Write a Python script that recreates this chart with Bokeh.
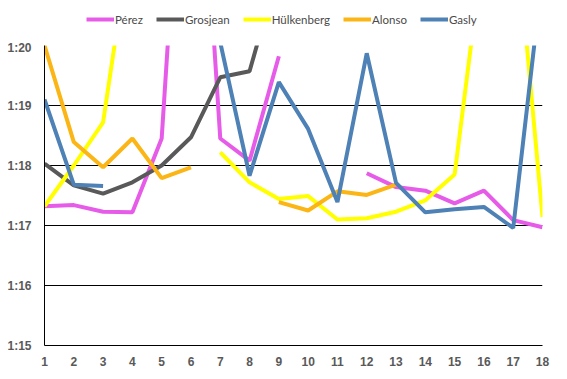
from bokeh.plotting import figure
from bokeh.models import Range1d, FixedTicker, Legend, LegendItem
from bokeh.layouts import column
from bokeh.embed import file_html
from bokeh.resources import INLINE

nan = float("nan")

laps = [1, 2, 3, 4, 5, 6, 7, 8, 9, 10, 11, 12, 13, 14, 15, 16, 17, 18]
perez = [77.32, 77.34, 77.23, 77.22, 78.45, 86.0, 78.45, 78.08, 79.82, nan, nan,
         77.87, 77.64, 77.58, 77.37, 77.58, 77.09, 76.97]
grosjean = [78.03, 77.67, 77.53, 77.72, 78.0, 78.47, 79.47, 79.57, 81.3, nan, nan,
            nan, nan, nan, nan, nan, nan, nan]
hulkenberg = [77.32, 78.0, 78.72, 82.0, nan, nan, 78.22, 77.72, 77.44, 77.49, 77.1,
              77.12, 77.23, 77.42, 77.85, 81.7, 82.5, 77.14]
alonso = [80.0, 78.39, 77.97, 78.45, 77.79, 77.97, nan, nan, 77.39, 77.25, 77.57,
          77.51, 77.68, nan, nan, nan, nan, nan]
gasly = [79.1, 77.68, 77.66, nan, nan, nan, 80.05, 77.83, 79.39, 78.61, 77.39,
         79.87, 77.71, 77.22, 77.27, 77.31, 76.96, 81.2]

names = ["Pérez", "Grosjean", "Hülkenberg", "Alonso", "Gasly"]
series = [perez, grosjean, hulkenberg, alonso, gasly]
colors = ["#E65CE8", "#595959", "#FFFF00", "#FBB515", "#4E81B5"]

y_ticks = [75, 76, 77, 78, 79, 80]
y_labels = ["1:15", "1:16", "1:17", "1:18", "1:19", "1:20"]

# ---- main chart ----
p = figure(width=551, height=331, output_backend="svg", toolbar_location=None,
           x_range=Range1d(1, 18), y_range=Range1d(75, 80),
           min_border_left=44, min_border_right=9, min_border_top=5,
           min_border_bottom=26)
p.outline_line_color = None
p.background_fill_color = "white"
p.border_fill_color = "white"

for vals, c in zip(series, colors):
    p.line(laps, vals, line_color=c, line_width=4)

p.xgrid.grid_line_color = None
p.ygrid.grid_line_color = "black"
p.ygrid.grid_line_width = 1
p.ygrid.ticker = FixedTicker(ticks=y_ticks)

for ax in (p.xaxis[0], p.yaxis[0]):
    ax.axis_line_color = "black"
    ax.axis_line_width = 1
    ax.major_tick_line_color = None
    ax.minor_tick_line_color = None
    ax.major_tick_out = 0
    ax.major_tick_in = 0
    ax.minor_tick_out = 0
    ax.minor_tick_in = 0
    ax.major_label_text_font = "Liberation Sans"
    ax.major_label_text_font_style = "bold"
    ax.major_label_text_font_size = "12px"
    ax.major_label_text_color = "#595959"

p.xaxis.ticker = FixedTicker(ticks=laps)
p.xaxis.major_label_standoff = 11
p.yaxis.ticker = FixedTicker(ticks=y_ticks)
p.yaxis.major_label_overrides = {t: l for t, l in zip(y_ticks, y_labels)}
p.yaxis.major_label_standoff = 13

# ---- legend strip above the chart ----
lg = figure(width=551, height=40, output_backend="svg", toolbar_location=None,
            x_axis_type=None, y_axis_type=None,
            x_range=Range1d(0, 1), y_range=Range1d(0, 1),
            min_border=0)
lg.outline_line_color = None
lg.xgrid.grid_line_color = None
lg.ygrid.grid_line_color = None
items = []
for name, c in zip(names, colors):
    # off-range placeholder so that the legend swatch is drawn
    r = lg.line(x=[-2, -1], y=[-2, -2], line_color=c, line_width=4)
    items.append(LegendItem(label=name, renderers=[r]))

legend = Legend(items=items, orientation="horizontal", location=(42, 14))
legend.border_line_color = None
legend.background_fill_alpha = 0
legend.padding = 0
legend.margin = 0
legend.spacing = 13
legend.glyph_width = 28
legend.glyph_height = 14
legend.label_standoff = 1
legend.label_text_font = "Lato"
legend.label_text_font_size = "11.5px"
legend.label_text_color = "#4A4A4A"
legend.label_height = 14
lg.add_layout(legend, "center")

layout = column(lg, p, spacing=0)
open("out.html", "w").write(file_html(layout, INLINE))
